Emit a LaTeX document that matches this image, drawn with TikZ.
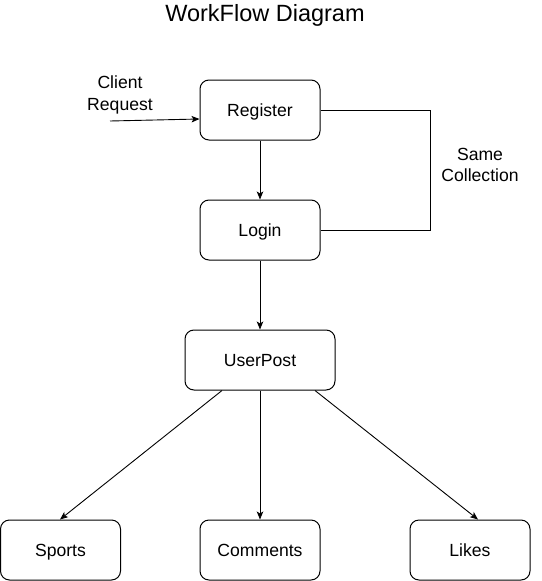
\documentclass[tikz,border=0pt]{standalone}
\usepackage{fontspec}
\setmainfont{Liberation Sans}
\usetikzlibrary{arrows.meta}
\begin{document}
\begin{tikzpicture}[x=1pt,y=1pt,
  box/.style={draw, line width=1pt, rounded corners=9pt, minimum width=120pt, minimum height=60pt, inner sep=0pt, text depth=0pt, font=\fontsize{17.6}{20}\selectfont},
  lbl/.style={align=center, font=\fontsize{17.6}{21.5}\selectfont},
  arr/.style={line width=0.9pt, -{Stealth[length=8pt,width=6.5pt,inset=2pt]}},
  ln/.style={line width=0.9pt}]
\useasboundingbox (0,0) rectangle (541,-581);
\node[font=\fontsize{23.5}{26}\selectfont] (title) at (265,-15) {WorkFlow Diagram};
\node[box] (reg) at (260,-110) {Register};
\node[box] (login) at (260,-230) {Login};
\node[box, minimum width=150pt] (post) at (260,-360) {UserPost};
\node[box] (sports) at (60.5,-550) {Sports};
\node[box] (comm) at (260,-550) {Comments};
\node[box] (likes) at (470,-550) {Likes};
\node[lbl] (client) at (120,-95) {Client\\Request};
\node[lbl] (same) at (480,-165) {Same\\Collection};
\coordinate (cstart) at (110,-121);
\coordinate (c1) at (430,-110);
\coordinate (c2) at (430,-230);
\draw[arr] (cstart) -- (reg.west |- 0,-119);
\draw[arr] (reg) -- (login);
\draw[arr] (login) -- (post);
\draw[ln] (reg.east) -- (c1) -- (c2) -- (login.east);
\draw[arr] (post.south -| 222,0) -- (sports.north -| 60,0);
\draw[arr] (post) -- (comm);
\draw[arr] (post.south -| 315,0) -- (likes.north -| 478,0);
\end{tikzpicture}
\end{document}
